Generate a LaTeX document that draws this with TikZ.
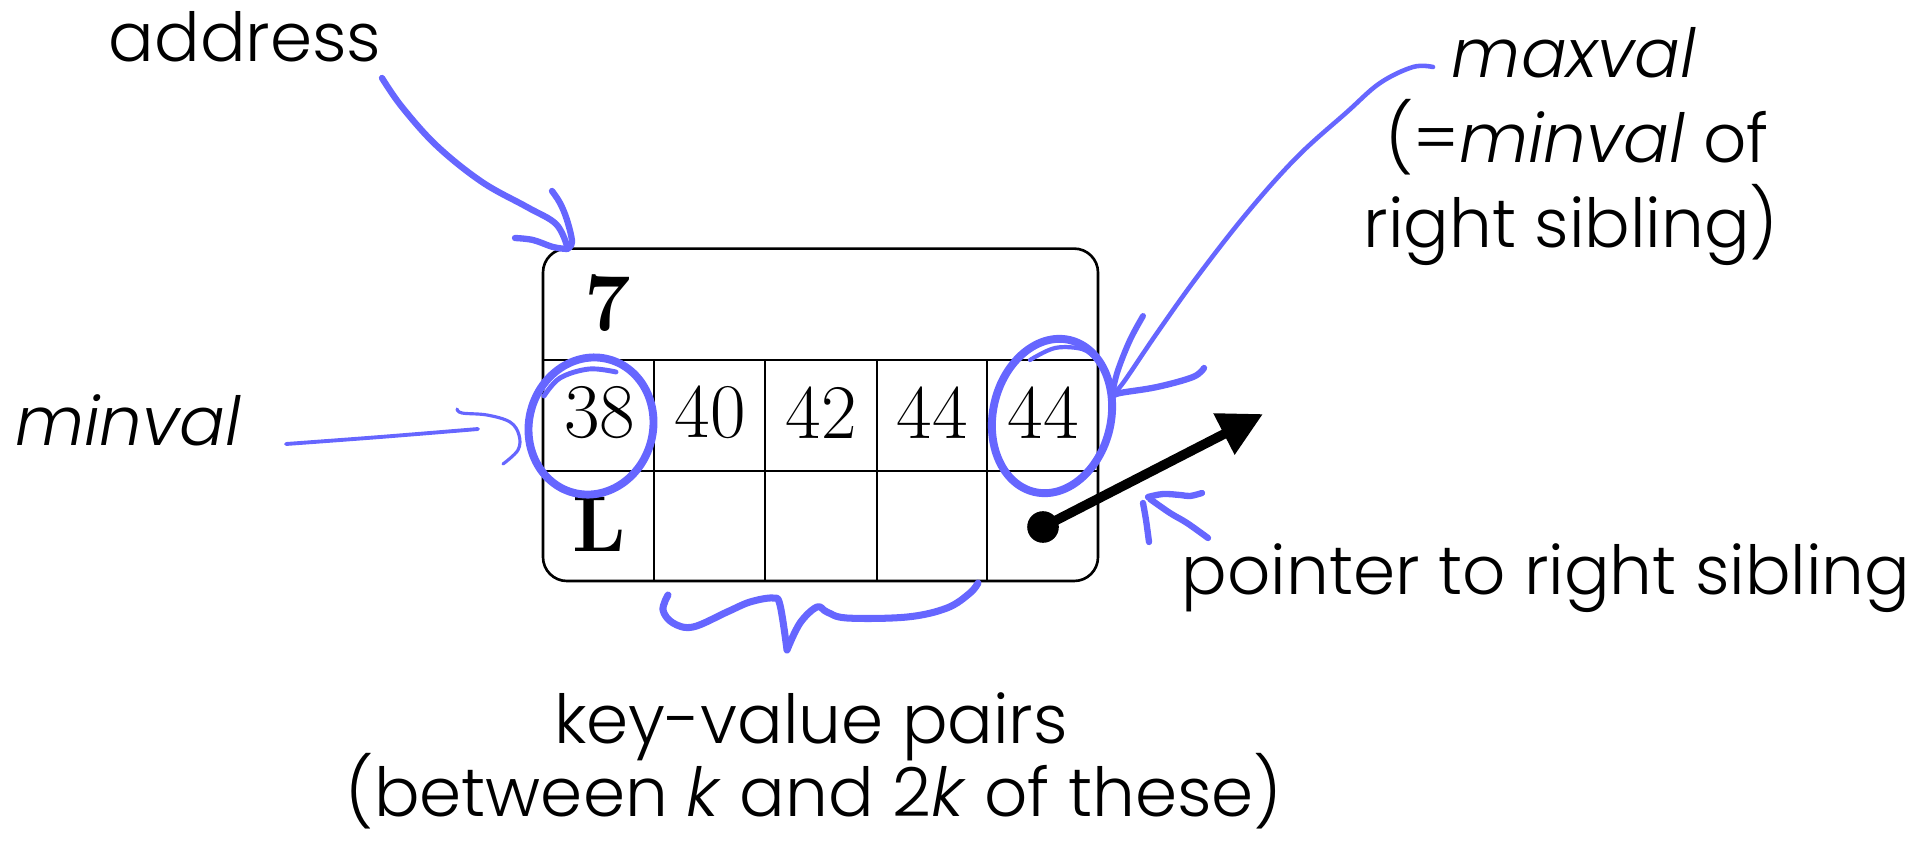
\documentclass[tikz,border=0pt]{standalone}
\usepackage{fontspec}
\newfontfamily\gothic{Poppins Light}
\usetikzlibrary{arrows.meta}
\definecolor{penblue}{RGB}{102,102,255}
\begin{document}
\begin{tikzpicture}[x=0.02cm,y=-0.02cm,
  cellnum/.style={font=\fontsize{44}{48}\selectfont, inner sep=0pt},
  cellbold/.style={font=\fontsize{45}{49}\selectfont\bfseries, inner sep=0pt},
  lbl/.style={font=\gothic\fontsize{38.5}{44}\selectfont, inner sep=0pt, anchor=base},
  grid/.style={line width=1.3pt},
  pen/.style={draw=penblue, line width=3.6pt, line cap=round, line join=round},
  thinpen/.style={pen, line width=2.2pt},
  ring/.style={pen, line width=4.5pt}]
\useasboundingbox (0,0) rectangle (1930,842);

% node box
\draw[grid, line width=1.5pt, rounded corners=13.6pt] (543,248.6) rectangle (1098,581);
\draw[grid] (543,360) -- (1098,360);
\draw[grid] (543,471) -- (1098,471);
\foreach \xx in {654,765,877,987} \draw[grid] (\xx,360) -- (\xx,581);

\node[cellbold, font=\fontsize{47}{51}\selectfont\bfseries] (addrnum) at (608,303) {7};
\node[cellnum] (k1) at (599.5,412.5) {38};
\node[cellnum] (k2) at (710,412.5) {40};
\node[cellnum] (k3) at (821,412.5) {42};
\node[cellnum] (k4) at (932,412.5) {44};
\node[cellnum] (k5) at (1043,412.5) {44};
\node[cellbold] (leaf) at (599,524) {L};

% pointer to right sibling
\node[circle, fill=black, inner sep=0pt, minimum size=18pt] (ptr) at (1043,527) {};
\coordinate (tip) at (1263,414);
\draw[line width=5.5pt, -{Triangle[length=25pt,width=25pt]}] (ptr.center) -- (tip);

% labels
\node[lbl] (laddr) at (245,61) {address};
\node[lbl] (lmin) at (128,445) {\itshape minval};
\node[lbl] (lmax) at (1574,77) {\itshape maxval};
\node[lbl] (lmax2) at (1577,162) {(=\textit{minval} of};
\node[lbl] (lmax3) at (1571,247) {right sibling)};
\node[lbl] (lptr) at (1546,594) {pointer to right sibling};
\node[lbl] (lkv) at (811,743) {key-value pairs};
\node[lbl] (lkv2) at (814,816) {(between \textit{k} and 2\textit{k} of these)};

% address arrow
\draw[pen] plot[smooth, tension=0.6] coordinates {(382,78) (402,107) (437,146) (482,182) (527,207) (556,224) (567,246)};
\draw[pen] plot[smooth, tension=0.6] coordinates {(515,238) (533,240) (553,247) (567,249)};
\draw[pen] plot[smooth, tension=0.6] coordinates {(552,191) (560,203) (567,220) (572,242) (567,249)};

% minval
\draw[thinpen] plot[smooth, tension=0.6] coordinates {(286,444) (380,437) (478,429)};
\draw[thinpen, line width=1.8pt] plot[smooth, tension=0.6] coordinates {(457,409) (462,413) (487,415) (510,422) (519,435) (518,450) (503,464)};
\draw[ring, rotate around={-15:(591,426)}] (591,426) ellipse [x radius=62, y radius=69];
\draw[pen, line width=2.8pt] plot[smooth, tension=0.6] coordinates {(544,396) (560,378) (589,369) (616,372)};

% maxval
\draw[ring, rotate around={-13:(1052,416)}] (1052,416) ellipse [x radius=59, y radius=78];
\draw[pen, line width=2.4pt] plot[smooth, tension=0.6] coordinates {(1030,360) (1055,348) (1082,349) (1095,358)};
\draw[pen, line width=2.6pt] plot[smooth, tension=0.6] coordinates {(1433,67) (1413,67) (1380,83) (1347,112) (1297,157) (1247,213) (1197,277) (1157,333) (1123,383) (1113,393)};
\draw[pen, line width=3.4pt] plot[smooth, tension=0.6] coordinates {(1143,316) (1130,340) (1118,370) (1113,390)};
\draw[pen, line width=3.6pt] plot[smooth, tension=0.6] coordinates {(1204,368) (1193,377) (1157,387) (1120,393) (1113,396)};

% pointer mark
\draw[pen] plot[smooth, tension=0.6] coordinates {(1143,503) (1146,520) (1149,542)};
\draw[pen] plot[smooth, tension=0.6] coordinates {(1202,493) (1190,496) (1180,495) (1163,494) (1148,497)};
\draw[pen] plot[smooth, tension=0.6] coordinates {(1150,499) (1170,513) (1187,523) (1208,538)};

% brace
\draw[pen, line width=4pt] plot[smooth, tension=0.6] coordinates {(668,595) (663,610) (673,623) (693,627) (727,612) (750,602) (773,598) (780,605) (787,650)}
  plot[smooth, tension=0.6] coordinates {(787,650) (800,623) (817,607) (827,612) (847,618) (907,617) (947,608) (970,593) (978,583)};
\end{tikzpicture}
\end{document}
